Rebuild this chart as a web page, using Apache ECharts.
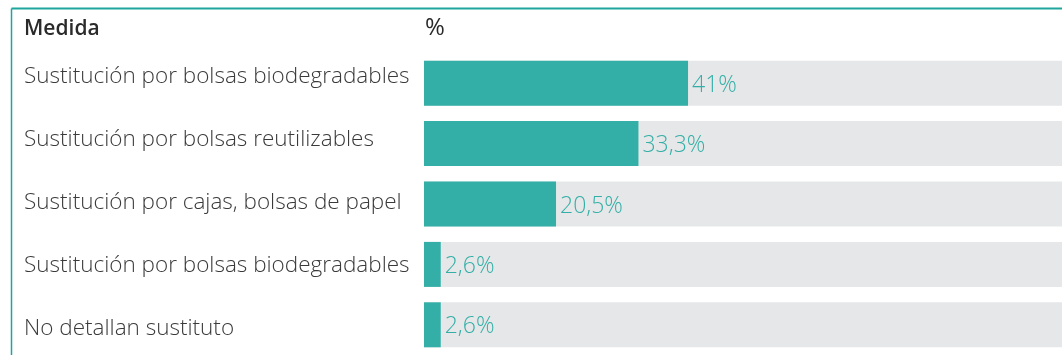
<!DOCTYPE html>
<html>
<head>
<meta charset="utf-8">
<script src="https://cdn.jsdelivr.net/npm/echarts@6/dist/echarts.min.js"></script>
<style>
  html, body { margin: 0; padding: 0; background: #fff; }
  #chart { width: 1062px; height: 355px; }
</style>
</head>
<body>
<div id="chart"></div>
<script>
// Medidas de sustitución de bolsas plásticas (% de respuestas)
const categories = [
  'Sustitución por bolsas biodegradables',
  'Sustitución por bolsas reutilizables',
  'Sustitución por cajas, bolsas de papel',
  'Sustitución por bolsas biodegradables',
  'No detallan sustituto'
];
const values = [41, 33.3, 20.5, 2.6, 2.6];
const headerLabels = ['Medida', '%'];

const TEAL = '#33afa7';
const GRAY = '#e6e7e8';
const TEXT = '#3a3a3a';
const FONT = '"Open Sans", Lato, sans-serif';

const chart = echarts.init(document.getElementById('chart'), null, { renderer: 'canvas' });

chart.setOption({
  animation: false,
  grid: [
    // bars
    { left: 424, top: 53, width: 644, height: 302, outerBoundsMode: 'none', containLabel: false },
    // text column of measures (slightly looser row pitch than the bars)
    { left: 424, top: 45.5, width: 10, height: 315, outerBoundsMode: 'none', containLabel: false }
  ],
  xAxis: [
    { type: 'value', min: 0, max: 100, show: false, gridIndex: 0 },
    { type: 'value', min: 0, max: 1, show: false, gridIndex: 1 }
  ],
  yAxis: [
    {
      type: 'category',
      gridIndex: 0,
      data: categories,
      inverse: true,
      axisLine: { show: false },
      axisTick: { show: false },
      splitLine: { show: false },
      axisLabel: { show: false }
    },
    {
      type: 'category',
      gridIndex: 1,
      data: categories,
      inverse: true,
      axisLine: { show: false },
      axisTick: { show: false },
      splitLine: { show: false },
      axisLabel: {
        align: 'left',
        margin: 400,
        fontSize: 22.5,
        fontWeight: 300,
        color: TEXT,
        fontFamily: FONT
      }
    }
  ],
  series: [{
    type: 'bar',
    xAxisIndex: 0,
    yAxisIndex: 0,
    data: values,
    barWidth: 45,
    showBackground: true,
    backgroundStyle: { color: GRAY },
    itemStyle: { color: TEAL },
    label: {
      show: true,
      position: 'right',
      distance: 4,
      offset: [0, 2],
      color: TEAL,
      fontSize: 23,
      fontWeight: 300,
      fontFamily: FONT,
      formatter: p => String(p.value).replace('.', ',') + '%'
    }
  }],
  graphic: [
    {
      type: 'line',
      shape: { x1: 11.5, y1: 8.5, x2: 1062, y2: 8.5 },
      style: { stroke: '#1fa59c', lineWidth: 2 }
    },
    {
      type: 'line',
      shape: { x1: 11.5, y1: 8.5, x2: 11.5, y2: 355 },
      style: { stroke: '#1fa59c', lineWidth: 1.5 }
    },
    {
      type: 'text',
      left: 24,
      top: 19,
      style: {
        text: headerLabels[0],
        fill: '#2a2a2a',
        font: '600 21px ' + FONT
      }
    },
    {
      type: 'text',
      left: 425,
      top: 16,
      style: {
        text: headerLabels[1],
        fill: '#2a2a2a',
        font: '400 24px ' + FONT
      }
    }
  ]
});
</script>
</body>
</html>
